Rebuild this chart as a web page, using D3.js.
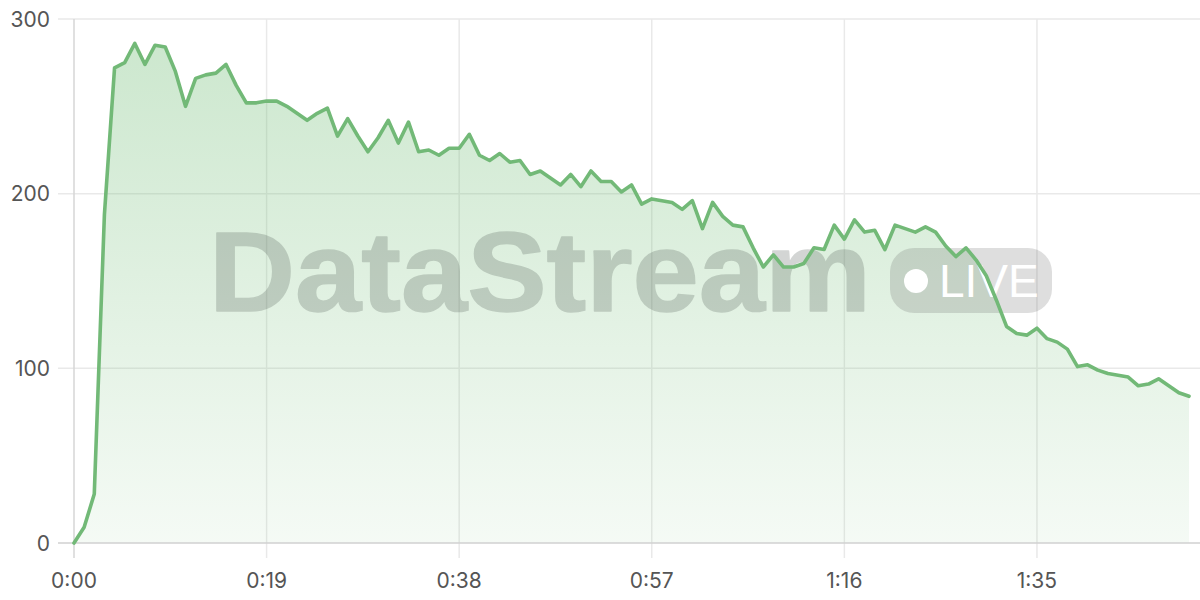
<!DOCTYPE html>
<html><head><meta charset="utf-8">
<script src="https://cdn.jsdelivr.net/npm/d3@7"></script>
<style>
html,body{margin:0;padding:0;background:#fff;}
svg{display:block;}
</style></head>
<body>
<svg id="chart" width="1200" height="600"></svg>
<script>
// seconds since start (one point per second)
const values = [0,9,28,188,272,275,286,274,285,284,
270,250,266,268,269,274,262,252,252,253,
253,250,246,242,246,249,233,243,233,224,
232,242,229,241,224,225,222,226,226,234,
222,219,223,218,219,211,213,209,205,211,
204,213,207,207,201,205,194,197,196,195,
191,196,180,195,187,182,181,169,158,165,
158,158,160,169,168,182,174,185,178,179,
168,182,180,178,181,178,170,164,169,162,
153,139,124,120,119,123,117,115,111,101,
102,99,97,96,95,90,91,94,90,86,84];
const times = values.map((v,i)=>i);
const xTicks = [0,19,38,57,76,95];
const yTicks = [0,100,200,300];

(function(){
const svg = d3.select('#chart');
const W = 1200, plotLeft = 74, plotTop = 19, plotBottom = 543;
const x = d3.scaleLinear().domain([0,110]).range([plotLeft,1189]);
const y = d3.scaleLinear().domain([0,300]).range([plotBottom,plotTop]);
const fmt = s => Math.floor(s/60) + ':' + String(s%60).padStart(2,'0');

const defs = svg.append('defs');
const g = defs.append('linearGradient').attr('id','fillGrad')
  .attr('gradientUnits','userSpaceOnUse').attr('x1',0).attr('x2',0).attr('y1',plotTop).attr('y2',plotBottom);
g.append('stop').attr('offset','0%').attr('stop-color','#6dbb72').attr('stop-opacity',0.36);
g.append('stop').attr('offset','100%').attr('stop-color','#6dbb72').attr('stop-opacity',0.07);

// horizontal grid
svg.append('g').selectAll('line').data(yTicks.filter(d=>d>0)).join('line')
  .attr('x1',58).attr('x2',W).attr('y1',d=>y(d)).attr('y2',d=>y(d))
  .attr('stroke','#e9e9e9').attr('stroke-width',1.5);
// vertical grid
svg.append('g').selectAll('line').data(xTicks).join('line')
  .attr('x1',d=>x(d)).attr('x2',d=>x(d)).attr('y1',plotTop).attr('y2',558)
  .attr('stroke',d=>d===0?'#d6d6d6':'#e9e9e9').attr('stroke-width',1.5);

// area
const area = d3.area().x((d,i)=>x(times[i])).y0(y(0)).y1(d=>y(d));
svg.append('path').datum(values).attr('d',area).attr('fill','url(#fillGrad)');

// watermark
const wmText = svg.append('g').attr('opacity',0.23);
wmText.append('text').attr('x',209).attr('y',311)
  .attr('font-family','"Liberation Sans", Arial, sans-serif').attr('font-weight','bold')
  .attr('font-size',114).attr('textLength',662).attr('lengthAdjust','spacingAndGlyphs')
  .attr('stroke','#46504a').attr('stroke-width',1.5).attr('stroke-linejoin','round')
  .attr('fill','#46504a').text('DataStream');
const wm = svg.append('g');
wm.append('rect').attr('x',890).attr('y',248).attr('width',162).attr('height',65).attr('rx',24)
  .attr('fill','rgba(90,90,90,0.2)');
wm.append('circle').attr('cx',916).attr('cy',281).attr('r',12).attr('fill','#fff');
wm.append('text').attr('x',939).attr('y',297)
  .attr('font-family','"Liberation Sans", Arial, sans-serif').attr('font-size',46)
  .attr('fill','#fff').text('LIVE');

// x axis line
svg.append('line').attr('x1',58).attr('x2',W).attr('y1',plotBottom).attr('y2',plotBottom)
  .attr('stroke','#d0d0d0').attr('stroke-width',1.5);

// line
const line = d3.line().x((d,i)=>x(times[i])).y(d=>y(d));
svg.append('path').datum(values).attr('d',line).attr('fill','none')
  .attr('stroke','#72b977').attr('stroke-width',3.6).attr('stroke-linejoin','round').attr('stroke-linecap','round');

// labels
svg.append('g').selectAll('text').data(yTicks).join('text')
  .attr('x',50).attr('y',d=>y(d)).attr('dy','0.36em').attr('text-anchor','end')
  .attr('font-family','Inter, sans-serif').attr('font-size',21).attr('fill','#555').text(d=>d);
svg.append('g').selectAll('text').data(xTicks).join('text')
  .attr('x',d=>x(d)).attr('y',588).attr('text-anchor','middle')
  .attr('font-family','Inter, sans-serif').attr('font-size',21).attr('fill','#555').text(d=>fmt(d));
})();
</script>
</body></html>
